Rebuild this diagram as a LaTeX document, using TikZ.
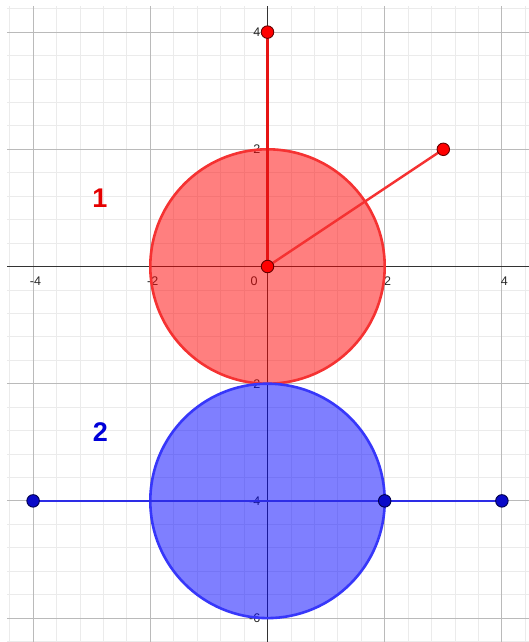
\documentclass[tikz,border=0pt]{standalone}
\usepackage{fontspec}
\setmainfont{Liberation Sans}
\definecolor{redfill}{RGB}{255,0,0}
\definecolor{redline}{RGB}{245,50,50}
\definecolor{redseg}{RGB}{230,20,20}
\definecolor{bluefill}{RGB}{0,0,255}
\definecolor{blueline}{RGB}{55,55,250}
\definecolor{blueseg}{RGB}{45,45,230}
\definecolor{bluedot}{RGB}{10,10,200}
\definecolor{lblgray}{RGB}{40,40,40}
\pgfdeclarelayer{fg}
\pgfsetlayers{main,fg}
\begin{document}
\begin{tikzpicture}[x=58.6pt,y=58.6pt,
  minorgrid/.style={draw=black!8, line width=0.8pt},
  majorgrid/.style={draw=black!27, line width=1pt},
  axisline/.style={draw=black!80, line width=1.2pt},
  ticklbl/.style={text=lblgray, font=\fontsize{12.5}{14}\selectfont, inner sep=0pt},
  redcirc/.style={draw=redline, line width=2.6pt, fill=redfill, fill opacity=0.5},
  bluecirc/.style={draw=blueline, line width=2.6pt, fill=bluefill, fill opacity=0.5},
  redsegment/.style={draw=redseg, line width=2.4pt},
  bluesegment/.style={draw=blueseg, line width=2.4pt},
  reddot/.style={circle, fill=red, draw=red!40!black, line width=0.9pt, minimum size=12.5pt, inner sep=0pt},
  bluedotst/.style={circle, fill=bluedot, draw=blue!30!black, line width=0.9pt, minimum size=12.5pt, inner sep=0pt},
  biglbl/.style={font=\fontsize{27}{30}\selectfont\bfseries, inner sep=0pt}
]
\useasboundingbox[fill=white] (-4.565,-6.408) rectangle (4.462,4.548);
% grid
\draw[minorgrid, step=0.4] (-4.44,-6.41) grid (4.47,4.45);
\draw[majorgrid, step=2] (-4.44,-6.41) grid (4.47,4.45);
% axes
\coordinate (xl) at (-4.44,0);
\coordinate (xr) at (4.47,0);
\coordinate (yt) at (0,4.45);
\coordinate (yb) at (0,-6.41);
\draw[axisline] (xl) -- (xr);
\draw[axisline] (yb) -- (yt);
% tick labels
\node[ticklbl] (lxm4) at (-3.96,-0.25) {-4};
\node[ticklbl] (lxm2) at (-1.96,-0.25) {-2};
\node[ticklbl] (lx0) at (-0.23,-0.25) {0};
\node[ticklbl] (lx2) at (2.05,-0.25) {2};
\node[ticklbl] (lx4) at (4.04,-0.25) {4};
\node[ticklbl, anchor=east] (ly4) at (-0.12,4) {4};
\node[ticklbl, anchor=east] (ly2) at (-0.12,2) {2};
\node[ticklbl, anchor=east] (lym2) at (-0.12,-2) {-2};
\node[ticklbl, anchor=east] (lym4) at (-0.12,-4) {-4};
\node[ticklbl, anchor=east] (lym6) at (-0.12,-6) {-6};
% circles
\draw[redcirc] (0,0) circle (2);
\draw[bluecirc] (0,-4) circle (2);
% points
\begin{pgfonlayer}{fg}
\node[reddot] (O) at (0,0) {};
\node[reddot] (A) at (0,4) {};
\node[reddot] (B) at (3,2) {};
\node[bluedotst] (P) at (-4,-4) {};
\node[bluedotst] (Q) at (2,-4) {};
\node[bluedotst] (R) at (4,-4) {};
\end{pgfonlayer}
\draw[redsegment] (O.center) -- (A.center);
\draw[redsegment, draw=redline] (O.center) -- (B.center);
\draw[bluesegment] (P.center) -- (R.center);
% labels
\node[biglbl, text=red!90!black] (lab1) at (-2.86,1.17) {1};
\node[biglbl, text=blue!85!black] (lab2) at (-2.85,-2.82) {2};
\end{tikzpicture}
\end{document}
